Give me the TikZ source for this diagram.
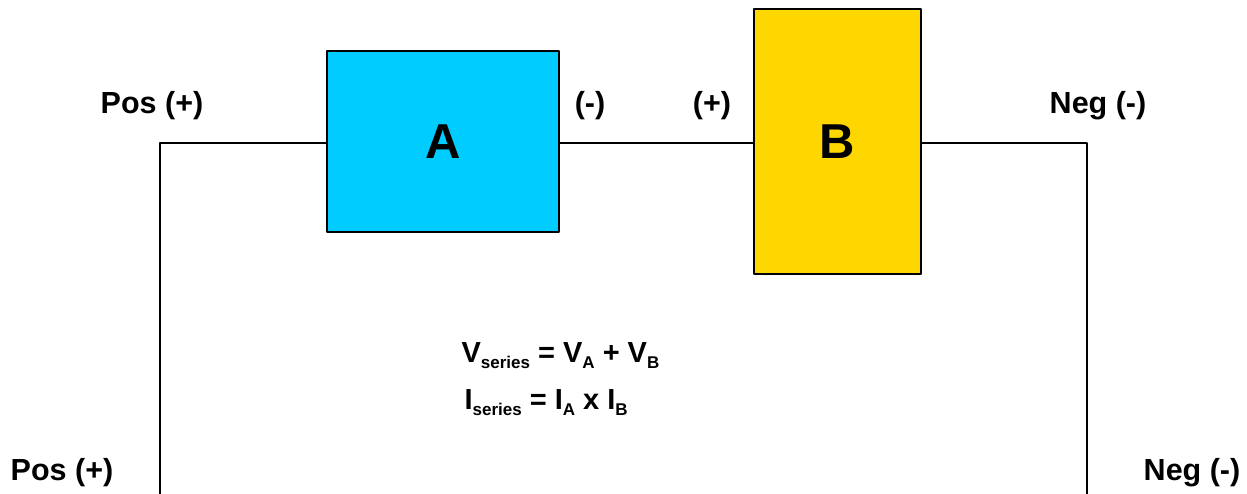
\documentclass[tikz,border=0pt]{standalone}
\usepackage{fontspec}
\setmainfont{Liberation Sans}
\definecolor{cellA}{RGB}{0,204,255}
\definecolor{cellB}{RGB}{255,215,0}
\newcommand{\sub}[1]{\raisebox{-0.2em}{\fontsize{17}{17}\selectfont #1}}
\begin{document}
\begin{tikzpicture}[x=1pt,y=-1pt,line cap=round,line join=round,
  every node/.style={font=\bfseries\fontsize{30.5}{33}\selectfont},
  wire/.style={line width=2.6pt},
  cell/.style={draw=black,line width=2.6pt,inner sep=0pt,font=\bfseries\fontsize{49}{52}\selectfont}]
  \useasboundingbox (0,0) rectangle (1247,494);
  % Two cells in series, wire loop open at the bottom.
  \node[cell,fill=cellA,minimum width=232pt,minimum height=181pt] (A) at (443,141.5) {A};
  \node[cell,fill=cellB,minimum width=167pt,minimum height=265pt] (B) at (837.5,141.5) {B};
  \coordinate (posend) at (160,494);
  \coordinate (poscorner) at (160,143);
  \coordinate (negcorner) at (1087,143);
  \coordinate (negend) at (1087,494);
  \draw[wire] (posend)--(poscorner)--(A.west|-poscorner);
  \draw[wire] (A.east|-poscorner)--(B.west|-poscorner);
  \draw[wire] (B.east|-negcorner)--(negcorner)--(negend);
  \node (postop) at (152,106) {Pos (+)};
  \node (aneg) at (590,106) {(-)};
  \node (bpos) at (712,106) {(+)};
  \node (negtop) at (1098,106) {Neg (-)};
  \node (posbot) at (62,473) {Pos (+)};
  \node (negbot) at (1192,473) {Neg (-)};
  \node[anchor=west,font=\bfseries\fontsize{29}{31}\selectfont] (vsum) at (458,356) {V\sub{series} = V\sub{A} + V\sub{B}};
  \node[anchor=west,font=\bfseries\fontsize{29}{31}\selectfont] (isum) at (461,403) {I\sub{series} = I\sub{A} x I\sub{B}};
\end{tikzpicture}
\end{document}
